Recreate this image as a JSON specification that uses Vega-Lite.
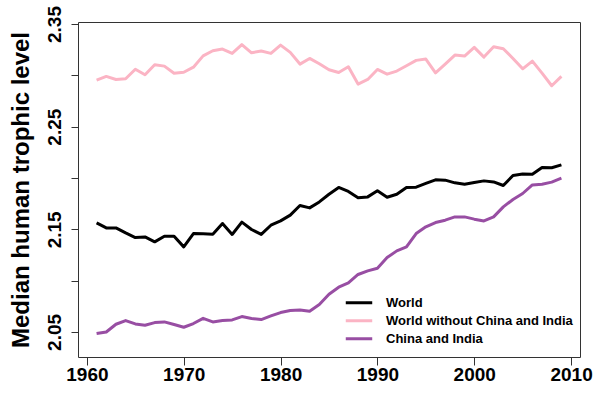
{
  "$schema": "https://vega.github.io/schema/vega-lite/v6.json",
  "autosize": {"type": "none"},
  "padding": {"left": 78, "top": 22, "right": 20, "bottom": 43},
  "width": 502,
  "height": 335,
  "background": "white",
  "config": {
    "font": "Liberation Sans",
    "view": {"stroke": "#333333", "strokeWidth": 1}
  },
  "data": {
    "values": [
      {"year": 1961, "World": 2.1563, "World without China and India": 2.2954, "China and India": 2.0484},
      {"year": 1962, "World": 2.1514, "World without China and India": 2.2990, "China and India": 2.0500},
      {"year": 1963, "World": 2.1514, "World without China and India": 2.2960, "China and India": 2.0575},
      {"year": 1964, "World": 2.1465, "World without China and India": 2.2967, "China and India": 2.0611},
      {"year": 1965, "World": 2.1420, "World without China and India": 2.3060, "China and India": 2.0578},
      {"year": 1966, "World": 2.1426, "World without China and India": 2.3006, "China and India": 2.0565},
      {"year": 1967, "World": 2.1378, "World without China and India": 2.3103, "China and India": 2.0591},
      {"year": 1968, "World": 2.1433, "World without China and India": 2.3090, "China and India": 2.0598},
      {"year": 1969, "World": 2.1433, "World without China and India": 2.3020, "China and India": 2.0572},
      {"year": 1970, "World": 2.1329, "World without China and India": 2.3030, "China and India": 2.0546},
      {"year": 1971, "World": 2.1459, "World without China and India": 2.3080, "China and India": 2.0582},
      {"year": 1972, "World": 2.1456, "World without China and India": 2.3190, "China and India": 2.0633},
      {"year": 1973, "World": 2.1453, "World without China and India": 2.3240, "China and India": 2.0598},
      {"year": 1974, "World": 2.1557, "World without China and India": 2.3256, "China and India": 2.0611},
      {"year": 1975, "World": 2.1450, "World without China and India": 2.3214, "China and India": 2.0617},
      {"year": 1976, "World": 2.1570, "World without China and India": 2.3300, "China and India": 2.0650},
      {"year": 1977, "World": 2.1498, "World without China and India": 2.3220, "China and India": 2.0631},
      {"year": 1978, "World": 2.1450, "World without China and India": 2.3237, "China and India": 2.0621},
      {"year": 1979, "World": 2.1540, "World without China and India": 2.3214, "China and India": 2.0656},
      {"year": 1980, "World": 2.1582, "World without China and India": 2.3295, "China and India": 2.0689},
      {"year": 1981, "World": 2.1638, "World without China and India": 2.3224, "China and India": 2.0709},
      {"year": 1982, "World": 2.1732, "World without China and India": 2.3110, "China and India": 2.0715},
      {"year": 1983, "World": 2.1709, "World without China and India": 2.3165, "China and India": 2.0702},
      {"year": 1984, "World": 2.1767, "World without China and India": 2.3113, "China and India": 2.0767},
      {"year": 1985, "World": 2.1842, "World without China and India": 2.3055, "China and India": 2.0867},
      {"year": 1986, "World": 2.1908, "World without China and India": 2.3028, "China and India": 2.0936},
      {"year": 1987, "World": 2.1869, "World without China and India": 2.3084, "China and India": 2.0978},
      {"year": 1988, "World": 2.1807, "World without China and India": 2.2915, "China and India": 2.1060},
      {"year": 1989, "World": 2.1816, "World without China and India": 2.2960, "China and India": 2.1095},
      {"year": 1990, "World": 2.1875, "World without China and India": 2.3058, "China and India": 2.1121},
      {"year": 1991, "World": 2.1813, "World without China and India": 2.3012, "China and India": 2.1225},
      {"year": 1992, "World": 2.1842, "World without China and India": 2.3042, "China and India": 2.1290},
      {"year": 1993, "World": 2.1908, "World without China and India": 2.3094, "China and India": 2.1329},
      {"year": 1994, "World": 2.1911, "World without China and India": 2.3146, "China and India": 2.1459},
      {"year": 1995, "World": 2.1947, "World without China and India": 2.3159, "China and India": 2.1524},
      {"year": 1996, "World": 2.1982, "World without China and India": 2.3025, "China and India": 2.1566},
      {"year": 1997, "World": 2.1979, "World without China and India": 2.3110, "China and India": 2.1589},
      {"year": 1998, "World": 2.1953, "World without China and India": 2.3198, "China and India": 2.1621},
      {"year": 1999, "World": 2.1940, "World without China and India": 2.3188, "China and India": 2.1621},
      {"year": 2000, "World": 2.1957, "World without China and India": 2.3273, "China and India": 2.1599},
      {"year": 2001, "World": 2.1972, "World without China and India": 2.3178, "China and India": 2.1582},
      {"year": 2002, "World": 2.1962, "World without China and India": 2.3279, "China and India": 2.1621},
      {"year": 2003, "World": 2.1927, "World without China and India": 2.3260, "China and India": 2.1719},
      {"year": 2004, "World": 2.2025, "World without China and India": 2.3165, "China and India": 2.1791},
      {"year": 2005, "World": 2.2040, "World without China and India": 2.3064, "China and India": 2.1849},
      {"year": 2006, "World": 2.2037, "World without China and India": 2.3139, "China and India": 2.1933},
      {"year": 2007, "World": 2.2103, "World without China and India": 2.3022, "China and India": 2.1940},
      {"year": 2008, "World": 2.2100, "World without China and India": 2.2899, "China and India": 2.1960},
      {"year": 2009, "World": 2.2128, "World without China and India": 2.2990, "China and India": 2.1998}
    ]
  },
  "transform": [
    {"fold": ["World", "World without China and India", "China and India"], "as": ["series", "value"]}
  ],
  "mark": {"type": "line", "strokeWidth": 3, "strokeJoin": "round"},
  "encoding": {
    "x": {
      "field": "year",
      "type": "quantitative",
      "scale": {"domain": [1959.08, 2010.92], "nice": false, "zero": false},
      "axis": {
        "title": null,
        "values": [1960, 1970, 1980, 1990, 2000, 2010],
        "format": "d",
        "grid": false,
        "domain": false,
        "tickSize": 8,
        "tickColor": "#333333",
        "labelFontSize": 19,
        "labelFontWeight": "bold",
        "labelColor": "black",
        "labelPadding": 0,
        "labelFlush": false
      }
    },
    "y": {
      "field": "value",
      "type": "quantitative",
      "scale": {"domain": [2.0256, 2.352], "nice": false, "zero": false},
      "axis": {
        "title": "Median human trophic level",
        "titleFontSize": 24,
        "titleFontWeight": "bold",
        "titleColor": "black",
        "titlePadding": 12,
        "values": [2.05, 2.10, 2.15, 2.20, 2.25, 2.30, 2.35],
        "labelExpr": "round(datum.value * 100) % 10 == 5 ? format(datum.value, '.2f') : ''",
        "grid": false,
        "domain": false,
        "tickSize": 7,
        "tickColor": "#333333",
        "labelFontSize": 19,
        "labelFontWeight": "bold",
        "labelColor": "black",
        "labelAngle": -90,
        "labelAlign": "center",
        "labelBaseline": "bottom",
        "labelPadding": 7,
        "labelFlush": false,
        "labelOverlap": false
      }
    },
    "color": {
      "field": "series",
      "type": "nominal",
      "sort": ["World", "World without China and India", "China and India"],
      "scale": {
        "domain": ["World", "World without China and India", "China and India"],
        "range": ["#000000", "#FBB4C4", "#984EA3"]
      },
      "legend": {
        "title": null,
        "orient": "none",
        "legendX": 266,
        "legendY": 273,
        "padding": 0,
        "symbolType": "stroke",
        "symbolSize": 700,
        "symbolStrokeWidth": 3,
        "clipHeight": 15.5,
        "labelFontSize": 13,
        "labelFontWeight": "bold",
        "labelColor": "black",
        "labelOffset": 12,
        "labelLimit": 0,
        "rowPadding": 2
      }
    }
  }
}
